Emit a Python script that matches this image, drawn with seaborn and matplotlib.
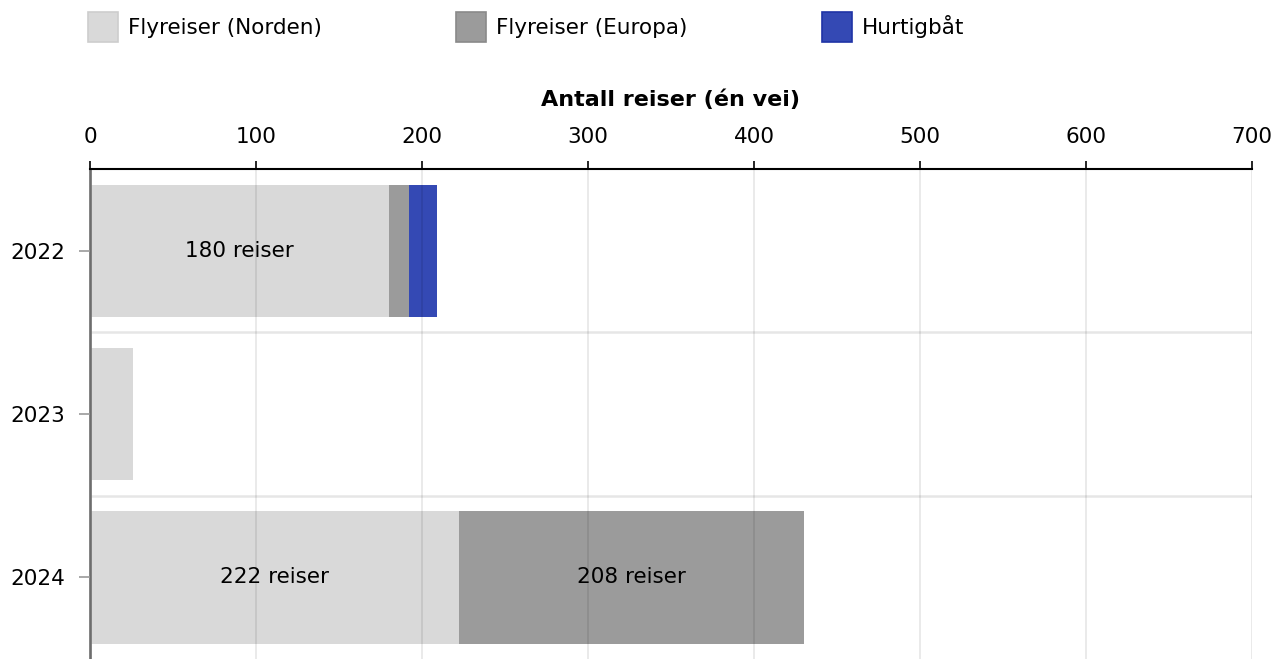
import numpy as np
import pandas as pd
import matplotlib
matplotlib.use("Agg")
import matplotlib.pyplot as plt
from matplotlib.patches import Patch
import seaborn as sns

# Data
years = ["2022", "2023", "2024"]
norden = [180, 26, 222]
europa = [12, 0, 208]
hurtigbat = [17, 0, 0]

series_names = ["Flyreiser (Norden)", "Flyreiser (Europa)", "Hurtigbåt"]
colors = ["#d9d9d9", "#9b9b9b", "#3449b4"]
edges = ["#cdcdcd", "#8a8a8a", "#1f34a6"]

sns.set_style("white")
plt.rcParams["font.family"] = ["DejaVu Sans"]
plt.rcParams["font.size"] = 15.5
plt.rcParams["text.color"] = "black"
plt.rcParams["xtick.color"] = "black"
plt.rcParams["ytick.color"] = "black"

df = pd.DataFrame({"year": years, "norden": norden, "europa": europa, "hurtig": hurtigbat})
# cumulative ends for stacking (draw longest first, shorter on top)
df["end_norden"] = df["norden"]
df["end_europa"] = df["norden"] + df["europa"]
df["end_hurtig"] = df["end_europa"] + df["hurtig"]

W, H = 1274, 659
fig = plt.figure(figsize=(W / 100, H / 100), dpi=100)
ax = fig.add_axes([90 / W, -4 / H, 1162 / W, 494 / H])

for col, c in zip(["end_hurtig", "end_europa", "end_norden"], colors[::-1]):
    sns.barplot(data=df, x=col, y="year", order=years, orient="h", color=c,
                width=0.81, errorbar=None, saturation=1, ax=ax, linewidth=0)

# segment labels
for i, yr in enumerate(years):
    if norden[i] >= 50:
        ax.text(norden[i] / 2, i, f"{norden[i]} reiser", ha="center", va="center", fontsize=15.5)
    if europa[i] >= 50:
        ax.text(norden[i] + europa[i] / 2, i, f"{europa[i]} reiser", ha="center", va="center", fontsize=15.5)

ax.set_xlim(0, 700)
ax.set_ylim(2.5 + 4 / 165, -0.5)
ax.set_xlabel("")
ax.set_ylabel("")

ax.xaxis.tick_top()
ax.set_xticks(np.arange(0, 701, 100))
ax.tick_params(axis="x", direction="out", top=True, length=6, width=1.2, color="black", pad=10, labelsize=15.5)
ax.tick_params(axis="y", direction="out", left=True, length=8, width=1.2, color="#999999", pad=10, labelsize=15.5)

ax.grid(axis="x", color="black", alpha=0.09, linewidth=1.3)
ax.set_axisbelow(False)
for yb in [0.5, 1.5]:
    ax.axhline(yb, color="#e6e6e6", linewidth=1.8, zorder=0)

for s in ["bottom", "right"]:
    ax.spines[s].set_visible(False)
ax.spines["top"].set_color("black")
ax.spines["top"].set_linewidth(1.5)
ax.spines["left"].set_color("#777777")
ax.spines["left"].set_linewidth(2)

fig.text((90 + 1252) / 2 / W, 1 - 100 / H, "Antall reiser (én vei)", ha="center", va="center",
         fontsize=16, fontweight="bold")

# legend: one entry per legend so each sits at its own x position
for c, e, n, x0 in zip(colors, edges, series_names, [88, 456, 822]):
    h = Patch(facecolor=c, edgecolor=e, linewidth=1.2, label=n)
    fig.legend(handles=[h], loc="upper left", bbox_to_anchor=(x0 / W, 1 - 12 / H),
               frameon=False, borderpad=0, borderaxespad=0, handlelength=1.4, handleheight=1.8,
               handletextpad=0.45, fontsize=15.5)

fig.savefig("out.png", dpi=100)
